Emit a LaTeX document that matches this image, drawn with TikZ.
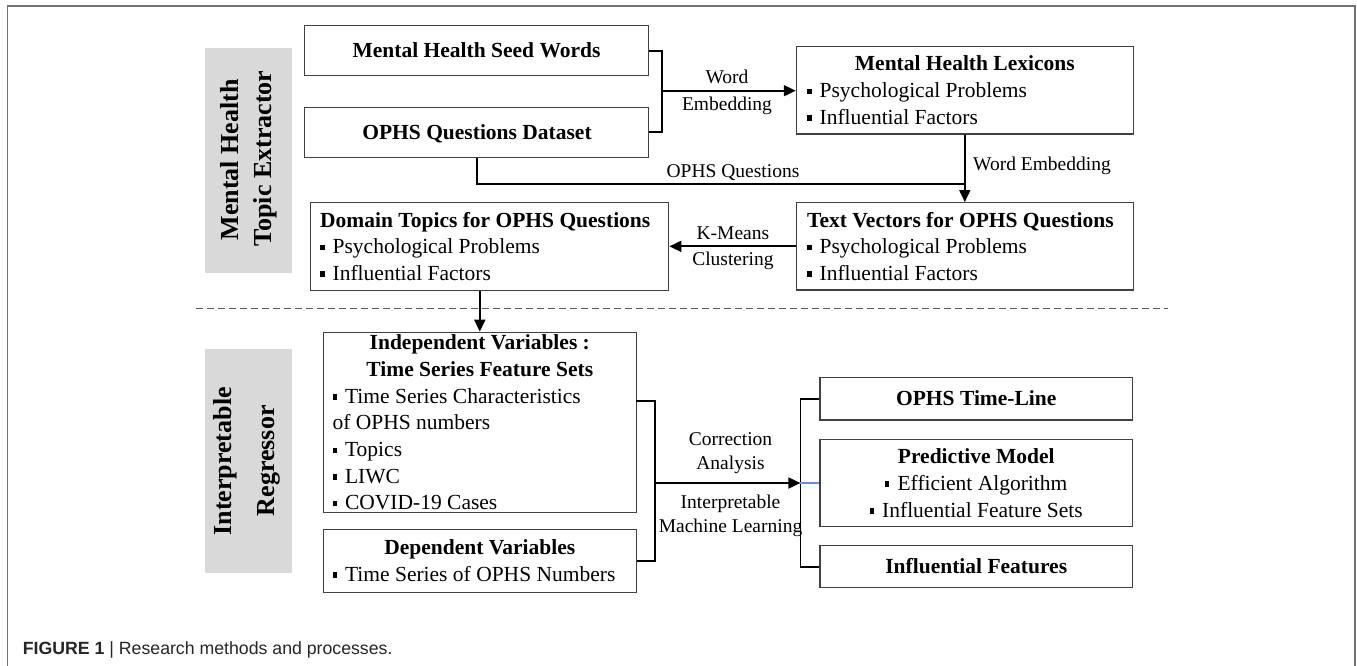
\documentclass[tikz,border=0pt]{standalone}
\usepackage{fontspec}
\setmainfont{Liberation Serif}
\setsansfont{Liberation Sans}
\usetikzlibrary{arrows.meta}
\newcommand{\bsq}{\rule[0.16em]{0.2em}{0.25em}\hspace{0.38em}}
\tikzset{
  box/.style={draw=black!75, line width=1.3pt, inner sep=0pt, fill=white},
  conn/.style={line width=1.8pt, draw=black},
  arr/.style={conn, -{Triangle[length=12pt,width=11pt]}},
  ttl/.style={font=\fontsize{21.5}{26}\selectfont\bfseries, anchor=base, inner sep=0pt},
  ttll/.style={font=\fontsize{21.5}{26}\selectfont\bfseries, anchor=base west, inner sep=0pt},
  txt/.style={font=\fontsize{21.5}{26}\selectfont, anchor=base west, inner sep=0pt},
  txtc/.style={font=\fontsize{21.5}{26}\selectfont, anchor=base, inner sep=0pt},
  lbl/.style={font=\fontsize{19.5}{23}\selectfont, anchor=base, inner sep=0pt},
  lbll/.style={font=\fontsize{19.5}{23}\selectfont, anchor=base west, inner sep=0pt},
  side/.style={font=\fontsize{26}{31}\selectfont\bfseries, rotate=90, anchor=base, inner sep=0pt},
  band/.style={fill=black!15, draw=none, inner sep=0pt},
  frame/.style={draw=black!55, line width=1.3pt},
  sep/.style={draw=black!65, line width=1.3pt, dash pattern=on 7pt off 4pt}
}
\begin{document}
\begin{tikzpicture}[x=1pt,y=-1pt]
\fill[white] (0,0) rectangle (1357,666);
\useasboundingbox (0,0) rectangle (1357,666);
% outer frame
\draw[frame] (7.5,666) -- (7.5,6) -- (1355,6) -- (1355,666);

% side bands
\node[band, minimum width=87pt, minimum height=225pt] (band1) at (248.6,160.2) {};
\node[band, minimum width=87pt, minimum height=224.3pt] (band2) at (248.6,461.2) {};
\node[side] (s1a) at (238.5,160) {Mental Health};
\node[side] (s1b) at (271,158.5) {Topic Extractor};
\node[side] (s2a) at (231,461.3) {Interpretable};
\node[side] (s2b) at (274,460.8) {Regressor};

% separator
\coordinate (sepL) at (196.4,308.3);
\coordinate (sepR) at (1168,308.3);
\draw[sep] (sepL) -- (sepR);

% boxes
\node[box, minimum width=344.2pt, minimum height=50pt] (seed) at (476.7,50.7) {};
\node[box, minimum width=344.2pt, minimum height=50pt] (data) at (476.7,132.3) {};
\node[box, minimum width=336.8pt, minimum height=87.3pt] (lex) at (964.8,90.35) {};
\node[box, minimum width=336.8pt, minimum height=87.3pt] (tv) at (964.8,246.35) {};
\node[box, minimum width=358.3pt, minimum height=88pt] (dom) at (489.55,246.3) {};
\node[box, minimum width=313pt, minimum height=180pt] (indep) at (479.8,422.3) {};
\node[box, minimum width=313pt, minimum height=63pt] (dep) at (479.8,560.8) {};
\node[box, minimum width=312.5pt, minimum height=42.3pt] (tl) at (976.25,398.85) {};
\node[box, minimum width=312.5pt, minimum height=87.4pt] (pred) at (976.25,483) {};
\node[box, minimum width=312.5pt, minimum height=42pt] (inf) at (976.25,566.7) {};

% box texts
\node[ttl] (seedT) at (476.5,57.6) {Mental Health Seed Words};
\node[ttl] (dataT) at (477,139.2) {OPHS Questions Dataset};

\node[ttl] (lexT) at (964.8,70.8) {Mental Health Lexicons};
\node[txt] (lexA) at (807,97.6) {\bsq Psychological Problems};
\node[txt] (lexB) at (807,124.3) {\bsq Influential Factors};

\node[ttll] (tvT) at (807,227) {Text Vectors for OPHS Questions};
\node[txt] (tvA) at (807,253.7) {\bsq Psychological Problems};
\node[txt] (tvB) at (807,280.3) {\bsq Influential Factors};

\node[ttll] (domT) at (320,227) {Domain Topics for OPHS Questions};
\node[txt] (domA) at (320,253.7) {\bsq Psychological Problems};
\node[txt] (domB) at (320,280) {\bsq Influential Factors};

\node[ttl] (indT1) at (479.8,349.7) {Independent Variables :};
\node[ttl] (indT2) at (479.8,376.4) {Time Series Feature Sets};
\node[txt] (indA) at (332.4,403.1) {\bsq Time Series Characteristics};
\node[txt] (indA2) at (332.4,429.8) {of OPHS numbers};
\node[txt] (indB) at (332.4,456.5) {\bsq Topics};
\node[txt] (indC) at (332.4,483.2) {\bsq LIWC};
\node[txt] (indD) at (332.4,509.9) {\bsq COVID-19 Cases};

\node[ttl] (depT) at (479.8,554.7) {Dependent Variables};
\node[txt] (depA) at (332.4,581.3) {\bsq Time Series of OPHS Numbers};

\node[ttl] (tlT) at (976.25,405.5) {OPHS Time-Line};
\node[ttl] (predT) at (976.25,463.7) {Predictive Model};
\node[txtc] (predA) at (976.25,490.3) {\bsq Efficient Algorithm};
\node[txtc] (predB) at (976.25,517) {\bsq Influential Feature Sets};
\node[ttl] (infT) at (976.25,573.2) {Influential Features};

% connectors
\coordinate (j1) at (662,90.7);
\draw[conn] (seed.east) -| (j1);
\draw[conn] (data.east) -| (j1);
\draw[arr] (j1) -- (lex.west |- j1);

\coordinate (j2) at (964.8,184.3);
\draw[conn] (data.south) |- (j2);
\draw[arr] (lex.south) -- (tv.north);

\draw[arr] (tv.west) -- (dom.east |- tv.west);
\draw[arr] (indep.north |- dom.south) -- (indep.north);

\coordinate (iout) at (636.3,401);
\coordinate (j3) at (655,483);
\coordinate (j4) at (800.4,483);
\draw[conn] (iout) -| (j3);
\draw[conn] (dep.east) -| (j3);
\draw[arr] (j3) -- (j4);
\draw[conn] (tl.west) -| (j4);
\draw[conn] (inf.west) -| (j4);
\draw[line width=1.3pt, draw={rgb,255:red,110;green,140;blue,220}] (j4) -- (pred.west);

% connector labels
\node[lbl] (lw1) at (727,83.3) {Word};
\node[lbl] (lw2) at (727,110.2) {Embedding};
\node[lbl] (lq) at (733,177) {OPHS Questions};
\node[lbll] (lwe) at (973,170.6) {Word Embedding};
\node[lbl] (lk1) at (732.9,239) {K-Means};
\node[lbl] (lk2) at (732.9,265.6) {Clustering};
\node[lbl] (lc1) at (730.5,445.6) {Correction};
\node[lbl] (lc2) at (730.5,469.6) {Analysis};
\node[lbl] (lc3) at (730.5,508.6) {Interpretable};
\node[lbl] (lc4) at (730.5,532.3) {Machine Learning};

% caption
\node[font=\sffamily\fontsize{17.7}{20}\selectfont, anchor=base west, inner sep=0pt, text=black!85] (cap) at (22.7,654.3) {\textbf{FIGURE 1} | Research methods and processes.};
\end{tikzpicture}
\end{document}
